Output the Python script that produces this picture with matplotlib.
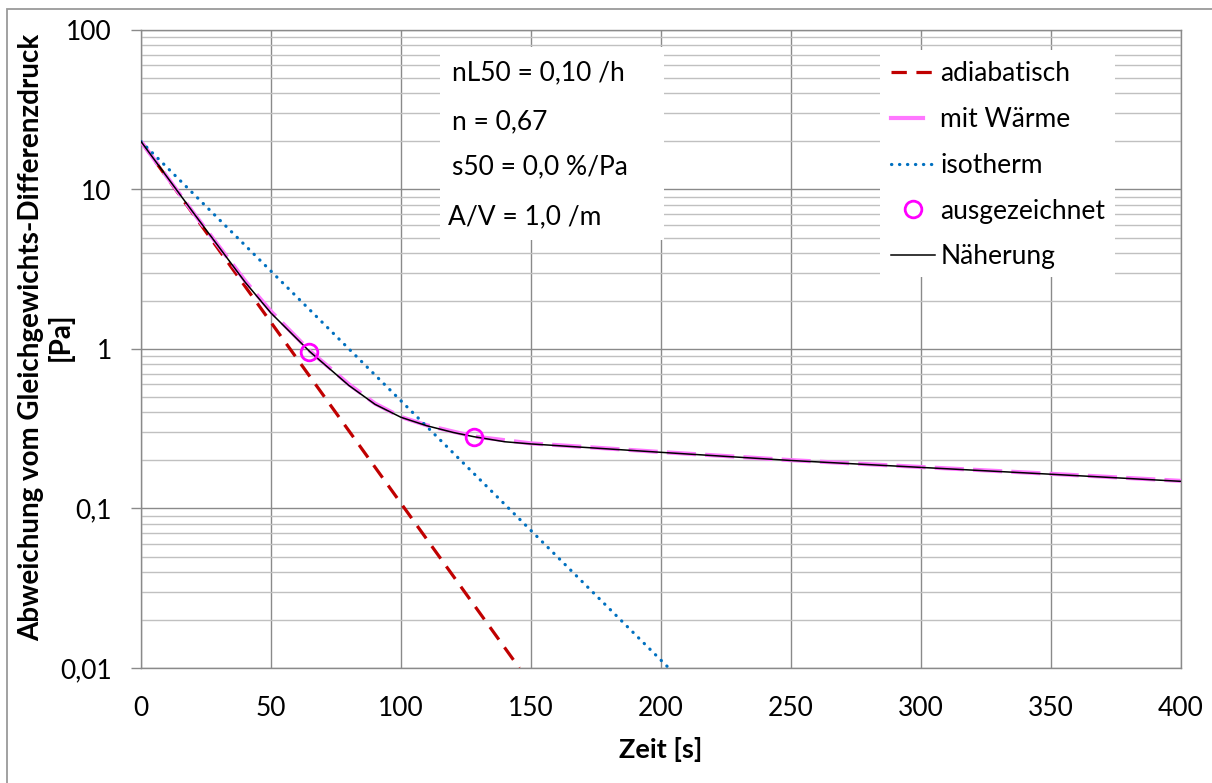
import matplotlib
matplotlib.use("Agg")
import matplotlib.pyplot as plt
from matplotlib.patches import Rectangle
from matplotlib.ticker import FixedLocator, FixedFormatter, LogLocator, NullFormatter

# --- data ---
t_adiabat = [0, 145.5]
p_adiabat = [20, 0.01]

t_isotherm = [0, 203]
p_isotherm = [20, 0.01]

t_waerme = [0, 20, 40, 50, 65, 80, 90, 100, 110, 128, 150, 200, 250, 300, 350, 400]
p_waerme = [20, 7.2, 2.68, 1.72, 0.97, 0.60, 0.455, 0.375, 0.332, 0.283, 0.256,
            0.226, 0.201, 0.182, 0.165, 0.149]

t_naeherung = [0, 20, 40, 50, 65, 80, 90, 100, 110, 120, 128, 140, 150, 200, 250, 300, 350, 400]
p_naeherung = [20, 7.2, 2.63, 1.68, 0.96, 0.59, 0.45, 0.373, 0.33, 0.30, 0.282, 0.262,
               0.254, 0.225, 0.20, 0.181, 0.164, 0.148]

t_marked = [64.5, 128]
p_marked = [0.96, 0.282]

x_ticks = [0, 50, 100, 150, 200, 250, 300, 350, 400]
y_ticks = [0.01, 0.1, 1, 10, 100]
y_ticklabels = ["0,01", "0,1", "1", "10", "100"]

info_lines = ["nL50 = 0,10 /h", "n = 0,67", "s50 = 0,0 %/Pa", "A/V = 1,0 /m"]

# --- figure in pixel terms (1212 x 783) ---
W, H = 1212, 783
plt.rcParams['font.family'] = ['Lato', 'DejaVu Sans']
FS = 19

fig = plt.figure(figsize=(W / 100, H / 100), dpi=100)
ax_l, ax_r, ax_t, ax_b = 141, 1181, 30, 668
ax = fig.add_axes([ax_l / W, 1 - ax_b / H, (ax_r - ax_l) / W, (ax_b - ax_t) / H])


def axfrac(x, y):
    # pixel position -> axes fraction
    return (x - ax_l) / (ax_r - ax_l), (ax_b - y) / (ax_b - ax_t)


ax.set_yscale('log')
ax.set_xlim(0, 400)
ax.set_ylim(0.01, 100)

ax.plot(t_adiabat, p_adiabat, color='#C00000', lw=2.3, dashes=(4.8, 3.0),
        label='adiabatisch', zorder=3)
ax.plot(t_waerme, p_waerme, color='#FF77FF', lw=3.0, dashes=(7.0, 2.2),
        label='mit Wärme', zorder=3)
ax.plot(t_isotherm, p_isotherm, color='#0070C0', lw=2.3, linestyle=(0, (0.1, 2.4)),
        dash_capstyle='round', label='isotherm', zorder=3)
ax.plot(t_marked, p_marked, linestyle='none', marker='o', ms=12, mfc='none',
        mec='#FF00FF', mew=2.0, label='ausgezeichnet', zorder=5)
ax.plot(t_naeherung, p_naeherung, color='black', lw=1.1, label='Näherung', zorder=4)

# ticks and grid
ax.xaxis.set_major_locator(FixedLocator(x_ticks))
ax.yaxis.set_major_locator(FixedLocator(y_ticks))
ax.yaxis.set_major_formatter(FixedFormatter(y_ticklabels))
ax.yaxis.set_minor_locator(LogLocator(base=10, subs=range(2, 10)))
ax.yaxis.set_minor_formatter(NullFormatter())
ax.tick_params(axis='x', length=0, pad=20, labelsize=FS)
ax.tick_params(axis='y', which='major', length=7, width=1, color='#8a8a8a', pad=14, labelsize=FS)
ax.tick_params(axis='y', which='minor', length=0)
ax.set_axisbelow(True)
ax.grid(which='major', color='#8a8a8a', lw=1.0)
ax.grid(which='minor', axis='y', color='#c0c0c0', lw=1.0)
for s in ax.spines.values():
    s.set_color('#8a8a8a')
    s.set_linewidth(1.0)

# white box behind the parameter text
x0, y0 = axfrac(440, 240)
x1, y1 = axfrac(664, 47)
ax.add_patch(Rectangle((x0, y0), x1 - x0, y1 - y0, transform=ax.transAxes,
                       facecolor='white', edgecolor='none', zorder=1.5))
for txt, (px, py) in zip(info_lines, [(452, 73), (452, 122), (452, 167), (448, 217)]):
    fx, fy = axfrac(px, py)
    ax.text(fx, fy, txt, transform=ax.transAxes, ha='left', va='center',
            fontsize=FS, zorder=6)

# legend on its own white box
x0, y0 = axfrac(880, 277)
x1, y1 = axfrac(1115, 50)
ax.add_patch(Rectangle((x0, y0), x1 - x0, y1 - y0, transform=ax.transAxes,
                       facecolor='white', edgecolor='none', zorder=1.5))
leg = ax.legend(loc='upper left', bbox_to_anchor=(x0, y1), frameon=False,
                fontsize=FS, borderpad=0.42, borderaxespad=0, labelspacing=0.79,
                handlelength=1.67, handletextpad=0.19, numpoints=1)
# Excel draws the "mit Wärme" key as one short solid dash
pink = leg.get_lines()[1]
pink.set_linestyle('-')
xd = pink.get_xdata()
yd = pink.get_ydata()
pink.set_data([xd[0], xd[0] + (xd[-1] - xd[0]) * 0.72], [yd[0], yd[0]])

# axis titles
fig.text(661 / W, 1 - 750 / H, 'Zeit [s]', ha='center', va='center',
         fontsize=19.5, fontweight='bold')
fig.text(46 / W, 1 - 337 / H, 'Abweichung vom Gleichgewichts-Differenzdruck\n[Pa]',
         ha='center', va='center', rotation=90, multialignment='center',
         fontsize=20, fontweight='bold', linespacing=1.15)

# outer chart border (only left and top are inside the image)
fig.add_artist(Rectangle((7 / W, -0.2), 2, 1.2 - 9 / H, transform=fig.transFigure,
                         fill=False, edgecolor='#9a9a9a', lw=1.3))

fig.savefig('out.png', dpi=100)
